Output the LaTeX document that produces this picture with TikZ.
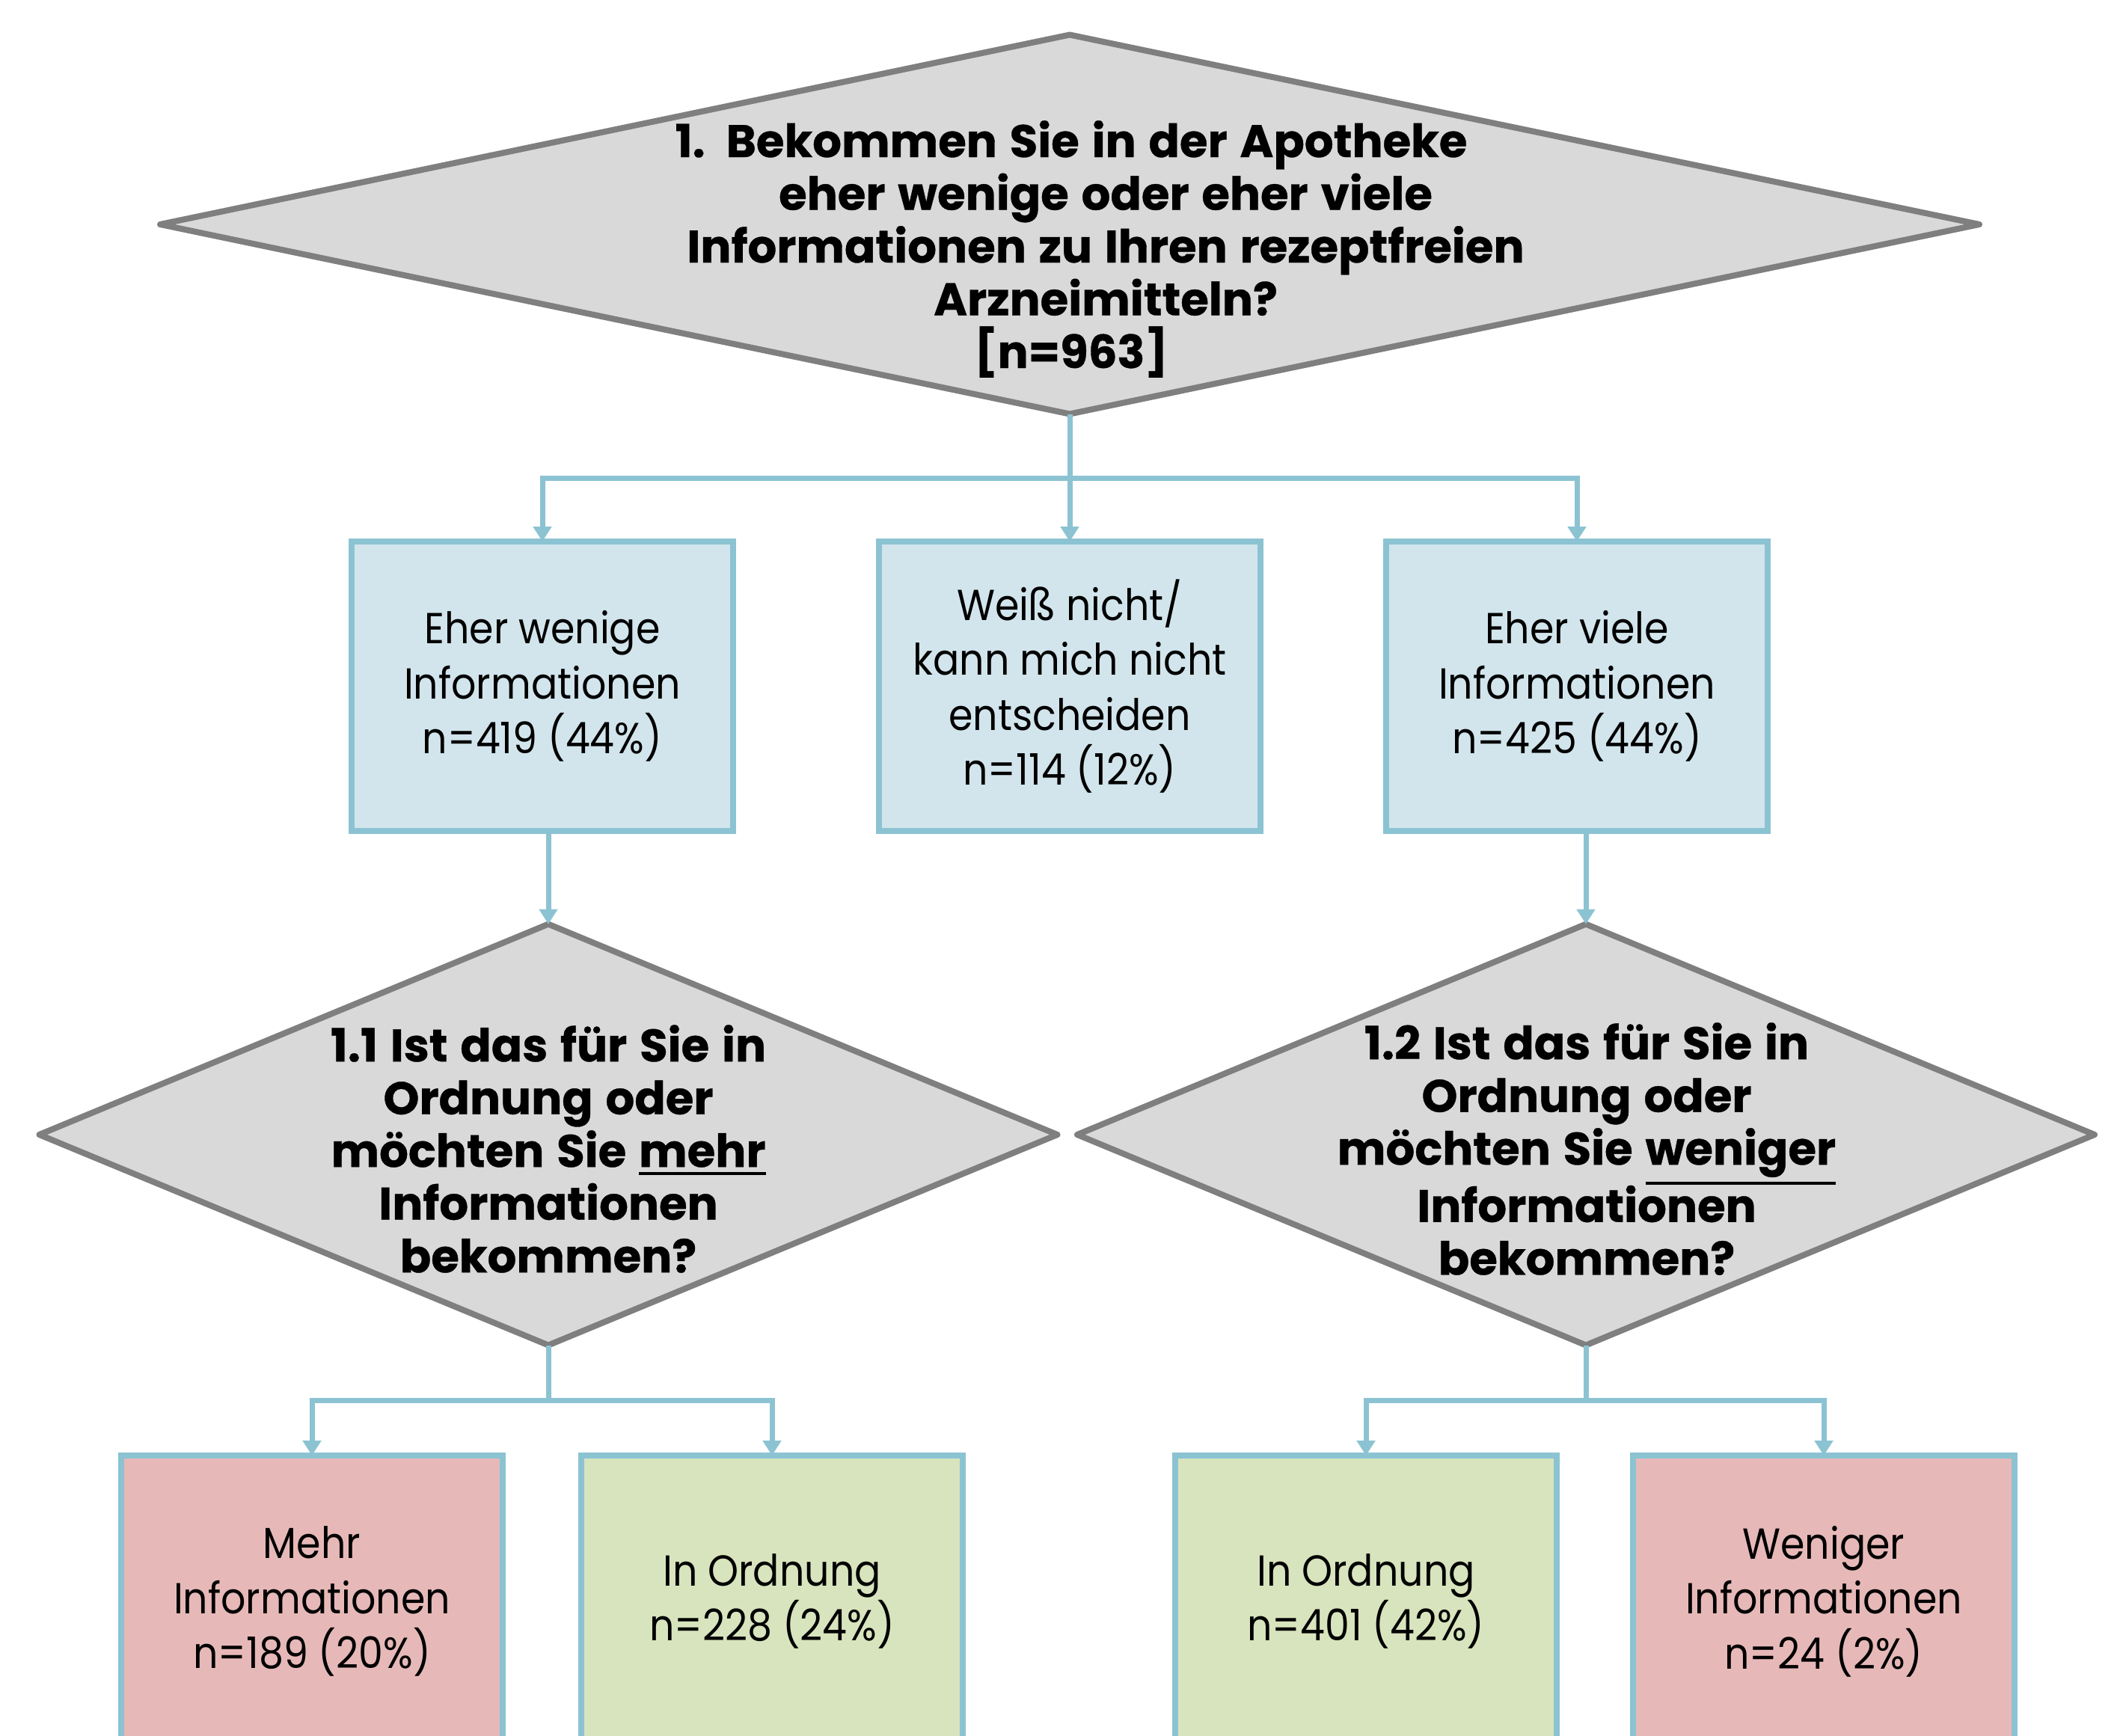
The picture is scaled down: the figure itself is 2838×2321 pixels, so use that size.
\documentclass[tikz,border=0pt]{standalone}
\usepackage{fontspec}
\setmainfont{Poppins}[FakeStretch=0.90, BoldFeatures={FakeStretch=1.0, WordSpace=1.3, FakeBold=0.6}]
\usetikzlibrary{shapes.geometric,arrows.meta}
\definecolor{dfill}{HTML}{D9D9D9}
\definecolor{dline}{HTML}{7F7F7F}
\definecolor{bfill}{HTML}{D2E5EC}
\definecolor{bline}{HTML}{8CC3D2}
\definecolor{rfill}{HTML}{E6B9B8}
\definecolor{gfill}{HTML}{D8E4BD}
\newcommand\ulword[1]{\vtop{\hbox{#1}\kern6pt\hrule height 4pt}}
\begin{document}
\begin{tikzpicture}[x=1pt,y=-1pt,
 dia/.style={diamond, draw=dline, fill=dfill, line width=8pt, inner sep=0pt, outer sep=0pt, line join=round},
 qtext/.style={align=center, font=\fontsize{61}{70.5}\selectfont\bfseries, inner sep=0pt},
 box/.style={rectangle, draw=bline, line width=8pt, minimum width=510pt, align=center, inner sep=0pt, outer sep=0pt, font=\fontsize{58}{73.5}\selectfont},
 conn/.style={draw=bline, line width=7pt},
 arr/.style={conn, -{Triangle[width=24pt,length=20pt]}}]
\useasboundingbox (0,0) rectangle (2838,2321);
\clip (0,0) rectangle (2838,2321);
% top question
\node[dia, minimum width=2432pt, minimum height=507pt] (q1) at (1430,300) {};
\node[qtext] (q1t) at (1432,333) {1.\hspace{28pt}Bekommen Sie in der Apotheke\\ \hspace*{92pt}eher wenige oder eher viele\\ \hspace*{92pt}Informationen zu Ihren rezeptfreien\\ \hspace*{92pt}Arzneimitteln?\\ {}[n=963]};
% first level boxes
\node[box, fill=bfill, minimum height=387pt] (b1) at (725,917.5) {Eher wenige\\Informationen\\n=419 (44\%)};
\node[box, fill=bfill, minimum height=387pt] (b2) at (1430,917.5) {Weiß nicht/\\kann mich nicht\\entscheiden\\n=114 (12\%)};
\node[box, fill=bfill, minimum height=387pt] (b3) at (2108,917.5) {Eher viele\\Informationen\\n=425 (44\%)};
% second level questions
\node[dia, minimum width=1361pt, minimum height=563pt] (q11) at (733,1517) {};
\node[qtext] (q11t) at (733,1536) {1.1 Ist das für Sie in\\Ordnung oder\\möchten Sie \ulword{mehr}\\Informationen\\bekommen?};
\node[dia, minimum width=1360pt, minimum height=563pt] (q12) at (2120,1517) {};
\node[qtext] (q12t) at (2121,1536) {1.2 Ist das für Sie in\\Ordnung oder\\möchten Sie \ulword{weniger}\\Informationen\\bekommen?};
% bottom boxes
\node[box, fill=rfill, minimum height=390pt] (ba) at (417,2141) {Mehr\\Informationen\\n=189 (20\%)};
\node[box, fill=gfill, minimum height=390pt] (bb) at (1032,2141) {In Ordnung\\n=228 (24\%)};
\node[box, fill=gfill, minimum height=390pt] (bc) at (1826,2141) {In Ordnung\\n=401 (42\%)};
\node[box, fill=rfill, minimum height=390pt] (bd) at (2438,2141) {Weniger\\Informationen\\n=24 (2\%)};
% connectors
\coordinate (j1) at (1430,639);
\draw[conn] (q1.south) -- (j1);
\draw[arr] (j1) -| (b1.north);
\draw[arr] (j1) -| (b3.north);
\draw[arr] (j1) -- (b2.north);
\draw[arr] (b1.south -| q11.north) -- (q11.north);
\draw[arr] (b3.south -| q12.north) -- (q12.north);
\coordinate (j2) at (733,1872);
\draw[conn] (q11.south) -- (j2);
\draw[arr] (j2) -| (ba.north);
\draw[arr] (j2) -| (bb.north);
\coordinate (j3) at (2120,1872);
\draw[conn] (q12.south) -- (j3);
\draw[arr] (j3) -| (bc.north);
\draw[arr] (j3) -| (bd.north);
\end{tikzpicture}
\end{document}
